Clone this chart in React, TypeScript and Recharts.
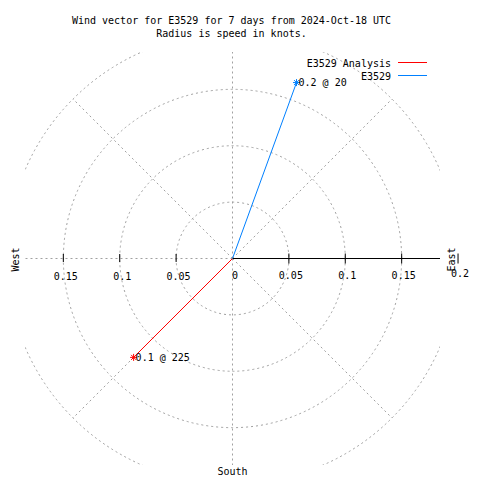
import React from "react";
import {
  ReferenceArea,
  ReferenceDot,
  ReferenceLine,
  Scatter,
  ScatterChart,
  XAxis,
  YAxis
} from "recharts";

// station series (speed in knots, direction in degrees from north)
const seriesNames = ["E3529 Analysis", "E3529"];
const speeds = [0.124, 0.166];
const directions = [225, 20];

const ringRadii = [0.05, 0.1, 0.15, 0.2];
const spokeAngles = [0, 45, 90, 135, 180, 225, 270, 315];
const westTicks = [0.05, 0.1, 0.15];
const eastTicks = [0.05, 0.1, 0.15, 0.2];

const titleLines = [
  "Wind vector for E3529 for 7 days from 2024-Oct-18 UTC",
  "Radius is speed in knots."
];

const colors = ["#ff0000", "#0080ff"];
const gridColor = "#a0a0a0";
const font = "'DejaVu Sans Mono', 'Liberation Mono', monospace";
const xLim = 0.184;
const yLim = 0.1831;

const rad = (d: number) => (d * Math.PI) / 180;

const vectors = speeds.map((s, i) => [
  { x: 0, y: 0, end: false, label: "" },
  {
    x: s * Math.sin(rad(directions[i])),
    y: s * Math.cos(rad(directions[i])),
    end: true,
    label: `${s.toFixed(1)} @ ${directions[i]}`
  }
]);

const fmt = (v: number) => String(Number(v.toFixed(2)));

function Asterisk({ cx, cy, color }: { cx: number; cy: number; color: string }) {
  const a = 3.5;
  return (
    <g stroke={color} strokeWidth={1}>
      <line x1={cx - a} x2={cx + a} y1={cy} y2={cy} />
      <line x1={cx} x2={cx} y1={cy - a} y2={cy + a} />
      <line x1={cx - a + 1} x2={cx + a - 1} y1={cy - a + 1} y2={cy + a - 1} />
      <line x1={cx - a + 1} x2={cx + a - 1} y1={cy + a - 1} y2={cy - a + 1} />
    </g>
  );
}

export default function App() {
  return (
    <div style={{ position: "relative", width: 480, height: 480, background: "#fff" }}>
      <style>{"body{margin:0}"}</style>
      <ScatterChart
        width={480}
        height={480}
        margin={{ top: 52, right: 40, bottom: 15, left: 25 }}
      >
        <XAxis type="number" dataKey="x" domain={[-xLim, xLim]} allowDataOverflow hide />
        <YAxis type="number" dataKey="y" domain={[-yLim, yLim]} allowDataOverflow hide />

        {ringRadii.map((r) => (
          <ReferenceArea
            key={"ring" + r}
            x1={-r}
            x2={r}
            y1={-r}
            y2={r}
            ifOverflow="hidden"
            shape={(p: any) => (
              <ellipse
                cx={p.x + p.width / 2}
                cy={p.y + p.height / 2}
                rx={Math.abs(p.width) / 2}
                ry={Math.abs(p.height) / 2}
                fill="none"
                stroke={gridColor}
                strokeDasharray="2 3"
                clipPath={p.clipPath}
              />
            )}
          />
        ))}

        {spokeAngles.map((a) => (
          <ReferenceLine
            key={"spoke" + a}
            segment={[
              { x: 0, y: 0 },
              { x: 0.2 * Math.sin(rad(a)), y: 0.2 * Math.cos(rad(a)) }
            ]}
            ifOverflow="hidden"
            stroke={gridColor}
            strokeDasharray="2 3"
          />
        ))}

        <ReferenceLine
          segment={[
            { x: 0, y: 0 },
            { x: 0.2, y: 0 }
          ]}
          ifOverflow="hidden"
          stroke="#000"
        />

        {westTicks.map((t) => (
          <ReferenceDot
            key={"w" + t}
            x={-t}
            y={0}
            ifOverflow="visible"
            shape={(p: any) => (
              <g>
                <line x1={p.cx} x2={p.cx} y1={p.cy - 4.5} y2={p.cy + 3.5} stroke="#000" />
                <text x={p.cx + 2.5} y={p.cy + 21} textAnchor="middle" fontFamily={font} fontSize={10} fill="#000">
                  {fmt(t)}
                </text>
              </g>
            )}
          />
        ))}

        {eastTicks.map((t) => (
          <ReferenceDot
            key={"e" + t}
            x={t}
            y={0}
            ifOverflow="visible"
            shape={(p: any) => (
              <g>
                <line x1={p.cx} x2={p.cx} y1={p.cy - 5} y2={p.cy + 5} stroke="#000" />
                <text
                  x={p.cx + 2}
                  y={p.cy + (t < 0.2 ? 20 : 18)}
                  textAnchor="middle"
                  fontFamily={font}
                  fontSize={10}
                  fill="#000"
                >
                  {fmt(t)}
                </text>
              </g>
            )}
          />
        ))}

        <ReferenceDot
          x={0}
          y={0}
          ifOverflow="visible"
          shape={(p: any) => (
            <text x={p.cx + 2.5} y={p.cy + 20.5} textAnchor="middle" fontFamily={font} fontSize={10} fill="#000">
              0
            </text>
          )}
        />

        <ReferenceDot
          x={-0.2}
          y={0}
          ifOverflow="visible"
          shape={(p: any) => (
            <text
              transform={`translate(${p.cx + 12.5},${p.cy + 1}) rotate(-90)`}
              textAnchor="middle"
              fontFamily={font}
              fontSize={10}
              fill="#000"
            >
              West
            </text>
          )}
        />
        <ReferenceDot
          x={0.2}
          y={0}
          ifOverflow="visible"
          shape={(p: any) => (
            <text
              transform={`translate(${p.cx - 3.5},${p.cy + 1}) rotate(-90)`}
              textAnchor="middle"
              fontFamily={font}
              fontSize={10}
              fill="#000"
            >
              East
            </text>
          )}
        />
        <ReferenceDot
          x={0}
          y={-0.2}
          ifOverflow="visible"
          shape={(p: any) => (
            <text x={p.cx} y={p.cy - 9} textAnchor="middle" fontFamily={font} fontSize={10} fill="#000">
              South
            </text>
          )}
        />

        {vectors.map((data, i) => (
          <Scatter
            key={seriesNames[i]}
            name={seriesNames[i]}
            data={data}
            line={{ stroke: colors[i], strokeWidth: 1 }}
            lineType="joint"
            isAnimationActive={false}
            shape={(p: any) =>
              p.payload.end ? (
                <g>
                  <Asterisk cx={p.cx} cy={p.cy} color={colors[i]} />
                  <text x={p.cx + 2} y={p.cy + 3.5} fontFamily={font} fontSize={10} fill="#000">
                    {p.payload.label}
                  </text>
                </g>
              ) : (
                <g />
              )
            }
          />
        ))}
      </ScatterChart>

      <svg
        width={480}
        height={480}
        style={{ position: "absolute", left: 0, top: 0, pointerEvents: "none" }}
        fontFamily={font}
        fontSize={10}
      >
        <text x={231.5} y={24} textAnchor="middle">{titleLines[0]}</text>
        <text x={231.5} y={37} textAnchor="middle">{titleLines[1]}</text>
        {seriesNames.map((n, i) => (
          <g key={n}>
            <text x={391} y={67 + i * 13} textAnchor="end">{n}</text>
            <line x1={398} x2={427} y1={62.5 + i * 13} y2={62.5 + i * 13} stroke={colors[i]} />
          </g>
        ))}
      </svg>
    </div>
  );
}
